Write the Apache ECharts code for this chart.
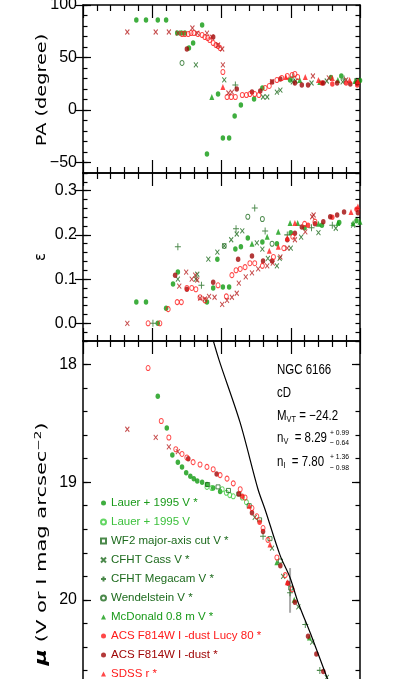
<!DOCTYPE html>
<html><head><meta charset="utf-8">
<script src="https://cdn.jsdelivr.net/npm/echarts@6/dist/echarts.min.js"></script>
<style>html,body{margin:0;padding:0;background:#fff}#c{width:398px;height:679px}</style>
</head><body><div id="c"></div>
<script>
// ---------- tick labels ----------
const paTicks = [-50, 0, 50, 100];
const epsTicks = [0, 0.1, 0.2, 0.3];
const muTicks = [18, 19, 20, 21];

// ---------- PA panel (x = r^(1/4), PA in degrees) ----------
const lauerStarPA = [[0.77,85.7],[0.91,85.7],[1.08,85.7],[1.20,85.7],[1.36,73.3],[1.42,73.3],[1.47,73.3],[1.53,59],[1.59,63.8],[1.72,81],[1.79,-41.9],[1.95,15.2],[2.02,-26.7],[2.11,-26.7],[2.19,-5.7],[2.28,4.8],[2.47,10.5],[2.59,21],[2.99,28.6],[3.58,31],[3.73,32.4],[4.00,28]];
const cassPA = [[1.63,42.9],[2.04,28.6],[2.60,12.4],[2.66,12.4],[2.80,17.1],[2.85,19],[3.03,26.7],[3.07,27.6],[3.30,25.7],[3.52,27.6],[3.75,26.7],[3.95,27.6]];
const megacamPA = [[2.20,23.8],[3.03,31.4],[3.77,29.5],[3.95,26.7]];
const wendelPA = [[1.43,44.8]];
const mcdonaldPA = [[1.86,12.4],[3.13,28.6],[3.42,26.7],[3.68,28.6],[3.93,27.6]];
const sdssPA = [[2.02,21.9],[2.93,31.4],[3.21,31.4],[3.40,28.6],[3.60,30.5],[3.85,28.6],[3.97,27.6]];
const acsDustPA = [[1.50,58],[1.88,69.5],[2.22,20],[2.44,17.1],[2.56,18.1],[2.73,26.7],[2.85,29.5],[3.06,25.7],[3.16,23.8],[3.25,23.8],[3.47,25.7],[3.67,25.7],[3.86,24.8],[3.96,25.7]];
const acsLucyPA = [[3.45,25.7],[3.60,24.8],[3.80,25.7],[3.96,23.8]];
const redOpenPA = [[1.43,72.4],[1.47,72.4],[1.52,72.4],[1.56,73.3],[1.60,73.3],[1.66,72.4],[1.72,71.4],[1.76,69.5],[1.80,68.6],[1.83,66.7],[1.88,63.8],[1.92,61.9],[1.95,60.9],[1.98,59],[2.02,36.2],[2.08,12.4],[2.14,12.4],[2.20,12.4],[2.30,14.3],[2.36,14.3],[2.41,15.2],[2.48,15.2],[2.54,14.3],[2.63,21],[2.69,22.9],[2.80,28.6],[2.87,30.5],[2.95,32.4],[3.02,33.3],[3.06,34.3],[3.10,31.4]];
const redCrossPA = [[0.64,74.3],[1.05,74.3],[1.24,74.3],[1.37,73.3],[1.58,78.1],[1.65,73.3],[1.79,73.3],[1.86,69.5],[1.95,61.9],[2.01,58.1],[2.02,42.9],[2.10,16.2],[2.15,17.1],[2.73,27],[3.32,32.4],[3.55,30.5],[3.80,28.6]];

// ---------- ellipticity panel ----------
const lauerStarEps = [[0.77,0.048],[0.91,0.048],[1.08,0],[1.20,0.034],[1.30,0.089],[1.37,0.116],[1.79,0.048],[1.88,0.080],[1.94,0.145],[2.02,0.082],[2.11,0.082],[2.20,0.168],[2.28,0.173],[2.38,0.193],[2.59,0.184],[2.80,0.180],[3.00,0.205],[3.20,0.216],[3.45,0.222],[3.70,0.228],[3.95,0.232]];
const megacamEps = [[1.01,0],[1.37,0.173],[1.71,0.086],[2.21,0.214],[2.48,0.261],[2.63,0.209],[2.95,0.200],[3.30,0.216],[3.60,0.222]];
const cassEps = [[1.37,0.100],[1.63,0.100],[1.65,0.111],[1.81,0.145],[1.94,0.161],[2.04,0.175],[2.14,0.189],[2.22,0.202],[2.30,0.209],[2.51,0.182],[2.59,0.168],[2.67,0.147],[2.80,0.130],[2.84,0.147],[3.00,0.170],[3.15,0.195],[3.40,0.205],[3.65,0.215],[3.90,0.222]];
const wendelEps = [[2.04,0.175],[2.38,0.241],[2.59,0.236],[2.73,0.180]];
const mcdonaldEps = [[2.44,0.180],[2.66,0.196],[2.82,0.207],[2.99,0.227],[3.10,0.227],[3.40,0.225],[3.68,0.227],[3.90,0.227],[4.00,0.230]];
const sdssEps = [[2.69,0.164],[2.82,0.173],[2.95,0.193],[3.06,0.227],[3.87,0.252],[3.97,0.264]];
const acsDustEps = [[1.33,0.109],[1.50,0.077],[1.88,0.093],[2.24,0.145],[2.44,0.152],[2.60,0.141],[2.73,0.141],[2.95,0.189],[3.06,0.204],[3.16,0.218],[3.35,0.225],[3.47,0.230],[3.57,0.241],[3.67,0.245],[3.77,0.252],[3.97,0.250]];
const acsLucyEps = [[3.25,0.222],[3.60,0.240],[3.95,0.258]];
const redOpenEps = [[0.94,0],[1.11,0],[1.23,0.032],[1.36,0.048],[1.42,0.048],[1.50,0.080],[1.57,0.080],[1.63,0.077],[1.69,0.059],[1.76,0.052],[1.95,0.086],[2.07,0.061],[2.15,0.109],[2.21,0.120],[2.27,0.123],[2.34,0.127],[2.41,0.136],[2.48,0.136],[2.59,0.130],[2.75,0.150],[2.90,0.170],[3.03,0.196],[3.20,0.225],[3.35,0.230]];
const redCrossEps = [[0.64,0],[1.39,0.084],[1.49,0.116],[1.57,0.100],[1.62,0.109],[1.65,0.098],[1.69,0.057],[1.76,0.055],[1.82,0.061],[1.90,0.059],[2.01,0.043],[2.08,0.052],[2.15,0.059],[2.22,0.068],[2.25,0.091],[2.35,0.105],[2.44,0.114],[2.53,0.123],[2.66,0.130],[2.74,0.136],[2.85,0.150],[2.95,0.170],[3.06,0.189],[3.21,0.207],[3.31,0.241],[3.33,0.245]];

// ---------- surface brightness panel ----------
const lauerStarMu = [[1.08,18.27],[1.21,18.54],[1.29,18.77],[1.37,18.83],[1.43,18.87],[1.49,18.92],[1.55,18.95],[1.60,18.97],[1.65,18.99],[1.72,19.00],[1.79,19.02],[1.88,19.05],[1.98,19.08]];
const lauerMu = [[1.79,19.04],[1.86,19.05],[2.01,19.06],[2.07,19.09],[2.12,19.11],[2.17,19.12],[2.30,19.13],[2.36,19.17]];
const wf2Mu = [[1.80,19.02],[1.95,19.04],[2.10,19.07],[2.25,19.10],[2.40,19.20],[2.55,19.32],[2.70,19.48],[2.85,19.67],[3.00,19.90]];
const cassMu = [[2.48,19.30],[2.73,19.56],[2.89,19.80],[3.11,20.06],[3.31,20.36],[3.52,20.66]];
const megacamMu = [[2.60,19.46],[2.99,19.94],[3.21,20.21],[3.42,20.60]];
const mcdonaldMu = [[2.80,19.68],[3.05,20.00],[3.27,20.32]];
const sdssMu = [[2.40,19.20],[2.70,19.53],[2.95,19.85]];
const acsDustMu = [[1.52,18.80],[1.93,18.93],[2.25,19.10],[2.44,19.26],[2.60,19.42],[2.85,19.71],[2.96,19.86],[3.06,20.02],[3.25,20.31],[3.37,20.46],[3.47,20.61]];
const acsLucyMu = [[2.30,19.12],[2.55,19.34]];
const redOpenMu = [[0.94,18.03],[1.13,18.48],[1.24,18.62],[1.34,18.72],[1.43,18.76],[1.50,18.79],[1.59,18.83],[1.69,18.85],[1.79,18.87],[1.88,18.89],[1.98,18.94],[2.08,18.97],[2.17,19.01],[2.27,19.06],[2.34,19.13],[2.44,19.22],[2.51,19.29],[2.60,19.39],[2.67,19.49],[2.80,19.64],[2.92,19.79],[3.02,19.91]];
const redCrossMu = [[0.64,18.55],[1.05,18.62],[1.24,18.70],[1.37,18.74]];
// Sersic fit curve and marker bar
const sersicX = [1.834, 1.964, 2.267, 2.527, 2.628, 2.845, 2.989, 3.105, 3.307, 3.523, 3.755];
const sersicMu = [17.70, 17.96, 18.49, 19.06, 19.23, 19.62, 19.81, 20.02, 20.32, 20.66, 21.02];
const barX = [2.99, 2.99];
const barMu = [19.73, 20.11];

// ---------- colours ----------
const C = {
  green: '#0f9a0f', lightGreen: '#3ccc3c', darkGreen: '#1e6b1e', mcd: '#139c13',
  red: '#ff1a1a', darkRed: '#a00808', redX: '#b82020'
};
const FONT = "'Liberation Sans',Arial,sans-serif";

const SYM_X = 'path://M0,0L10,10M10,0L0,10';
const SYM_P = 'path://M5,0L5,10M0,5L10,5';

function r1(v){ return Math.round(v*1000)/1000; }
function steps(min, max, st){ const a=[]; for(let v=min; v<=max+1e-9; v+=st) a.push(r1(v)); return a; }

// ---------- axes ----------
const xAxes = [];
function xa(grid, pos){
  return {type:'value', gridIndex:grid, position:pos, min:0, max:4, interval:1,
    axisLine:{show:true, onZero:false, lineStyle:{color:'#000', width:1.5}},
    axisTick:{show:true, inside:true, length:13, lineStyle:{color:'#000', width:1.2}},
    minorTick:{show:true, splitNumber:5, length:6, lineStyle:{color:'#000', width:1.2}},
    axisLabel:{show:false}, splitLine:{show:false}, minorSplitLine:{show:false}};
}
xAxes.push(xa(0,'bottom'), xa(0,'top'), xa(1,'bottom'), xa(1,'top'), xa(2,'top'));
const xIdx = [0, 2, 4];

const yAxes = [];
function yset(grid, min, max, minorStep, majors, fmt, inverse){
  const minor = steps(min, max, minorStep);
  const base = {type:'value', gridIndex:grid, min, max, inverse:!!inverse, splitLine:{show:false}};
  yAxes.push(Object.assign({}, base, {position:'left',
    axisLine:{show:true, onZero:false, lineStyle:{color:'#000', width:1.5}},
    axisTick:{show:true, inside:true, length:4.5, customValues:minor, lineStyle:{color:'#000', width:1.2}},
    axisLabel:{show:true, customValues:majors, formatter:fmt, color:'#000', fontFamily:FONT, fontSize:16, margin:6}}));
  yAxes.push(Object.assign({}, base, {position:'left',
    axisLine:{show:false},
    axisTick:{show:true, inside:true, length:8, customValues:majors, lineStyle:{color:'#000', width:1.2}},
    axisLabel:{show:false}}));
  yAxes.push(Object.assign({}, base, {position:'right',
    axisLine:{show:true, onZero:false, lineStyle:{color:'#000', width:1.5}},
    axisTick:{show:true, inside:true, length:4.5, customValues:minor, lineStyle:{color:'#000', width:1.2}},
    axisLabel:{show:false}}));
  yAxes.push(Object.assign({}, base, {position:'right',
    axisLine:{show:false},
    axisTick:{show:true, inside:true, length:8, customValues:majors, lineStyle:{color:'#000', width:1.2}},
    axisLabel:{show:false}}));
}
const neg = v => (v < 0 ? '\u2212' + Math.abs(v) : String(v));
yset(0, -60, 100, 10, paTicks, neg);
yset(1, -0.04, 0.34, 0.02, epsTicks, v => v.toFixed(1));
yset(2, 17.8, 21.2, 0.2, muTicks, v => String(v), true);
const yIdx = [0, 4, 8];

// ---------- series ----------
const series = [];
function sc(name, data, panel, sym, size, color, filled, z){
  series.push({type:'scatter', name, data, xAxisIndex:xIdx[panel], yAxisIndex:yIdx[panel],
    symbol:sym, symbolSize:size, z:z||2,
    itemStyle: filled ? {color} : {color:'rgba(0,0,0,0)', borderColor:color, borderWidth:1},
    emphasis:{disabled:true}, silent:true, clip:true});
}
const defs = [
  ['Lauer + 1995 V *', [lauerStarPA, lauerStarEps, lauerStarMu], 'circle', [4.5,5.5], C.green, true],
  ['Lauer + 1995 V', [null, null, lauerMu], 'circle', [4,5], C.lightGreen, false],
  ['WF2 major-axis cut V *', [null, null, wf2Mu], 'rect', [4,4], C.darkGreen, false],
  ['CFHT Cass V *', [cassPA, cassEps, cassMu], SYM_X, [4,5], C.darkGreen, false],
  ['CFHT Megacam V *', [megacamPA, megacamEps, megacamMu], SYM_P, [6,7], C.darkGreen, false],
  ['Wendelstein V *', [wendelPA, wendelEps, null], 'circle', [4,5], C.darkGreen, false],
  ['McDonald 0.8 m V *', [mcdonaldPA, mcdonaldEps, mcdonaldMu], 'triangle', [5,6], C.mcd, true],
  ['ACS F814W I -dust Lucy 80 *', [acsLucyPA, acsLucyEps, acsLucyMu], 'circle', [4.5,5.5], C.red, true],
  ['ACS F814W I -dust *', [acsDustPA, acsDustEps, acsDustMu], 'circle', [4.5,5.5], C.darkRed, true],
  ['SDSS r *', [sdssPA, sdssEps, sdssMu], 'triangle', [5,6], C.red, true],
  ['ACS open', [redOpenPA, redOpenEps, redOpenMu], 'circle', [4,5], C.red, false],
  ['ACS cross', [redCrossPA, redCrossEps, redCrossMu], SYM_X, [4,5], C.redX, false]
];
defs.forEach(d => d[1].forEach((arr, p) => { if (arr) sc(d[0], arr, p, d[2], d[3], d[4], d[5]); }));

series.push({type:'line', name:'Sersic', data: sersicX.map((x,i)=>[x, sersicMu[i]]), xAxisIndex:4, yAxisIndex:8,
  symbol:'none', smooth:0.3, lineStyle:{color:'#000', width:1.2}, clip:true, silent:true, z:3});
series.push({type:'line', name:'bar', data: barX.map((x,i)=>[x, barMu[i]]), xAxisIndex:4, yAxisIndex:8,
  symbol:'none', lineStyle:{color:'#aaaaaa', width:2}, clip:true, silent:true, z:1});

const legendCols = ['#1a9a1a', '#3cc03c', '#1e6b1e', '#1e6b1e', '#1e6b1e', '#1e6b1e', '#1a9a1a', '#ff1a1a', '#a00808', '#ff1a1a'];
const legendData = defs.slice(0, 10).map((d, i) => ({name: d[0], textStyle:{color: legendCols[i]}}));

const sub = {fontFamily:'Liberation Sans', fontSize:9, padding:[8,0,0,0]};
const option = {
  animation:false,
  backgroundColor:'#fff',
  grid:[
    {left:83, top:5, width:277, height:168, outerBoundsMode:'none', containLabel:false},
    {left:83, top:173, width:277, height:168, outerBoundsMode:'none', containLabel:false},
    {left:83, top:341, width:277, height:400, outerBoundsMode:'none', containLabel:false}
  ],
  xAxis:xAxes, yAxis:yAxes, series,
  legend:{show:true, type:'plain', orient:'vertical', left:100, top:496, height:260, itemWidth:5, itemHeight:5, itemGap:5, padding:0,
    selectedMode:false, data:legendData,
    textStyle:{fontFamily:FONT, fontSize:11.5, lineHeight:14, padding:[0,0,0,0]}},
  graphic:[
    {type:'text', x:42, y:90, rotation:Math.PI/2, scaleX:1.38, style:{text:'PA (degree)', font:"14px 'DejaVu Sans'", fill:'#000', align:'center', verticalAlign:'middle'}},
    {type:'text', x:41, y:257, rotation:Math.PI/2, style:{text:'\u03b5', font:"15px 'DejaVu Sans'", fill:'#000', align:'center', verticalAlign:'middle'}},
    {type:'text', x:42, y:544, rotation:Math.PI/2, scaleX:1.5, style:{text:'{m|\u03bc} (V or I mag arcsec{s|\u22122})', fill:'#000', align:'center', verticalAlign:'middle',
      fontFamily:'DejaVu Sans', fontSize:14, rich:{m:{fontFamily:'DejaVu Sans', fontSize:15, fontStyle:'italic', fontWeight:'bold'}, s:{fontFamily:'DejaVu Sans', fontSize:9, padding:[0,0,7,0]}}}},
    {type:'text', x:277, y:370, scaleX:0.82, style:{text:'NGC 6166', fontFamily:'Liberation Sans', fontSize:14, fill:'#000', verticalAlign:'middle'}},
    {type:'text', x:277, y:393, scaleX:0.82, style:{text:'cD', fontFamily:'Liberation Sans', fontSize:14, fill:'#000', verticalAlign:'middle'}},
    {type:'text', x:277, y:416, scaleX:0.82, style:{text:'M{s|VT} = \u221224.2', fontFamily:'Liberation Sans', fontSize:14, fill:'#000', verticalAlign:'middle', rich:{s:sub}}},
    {type:'text', x:277, y:438, scaleX:0.82, style:{text:'n{s|V}  = 8.29', fontFamily:'Liberation Sans', fontSize:14, fill:'#000', verticalAlign:'middle', rich:{s:sub}}},
    {type:'text', x:330, y:433, scaleX:0.85, style:{text:'+ 0.99', fontFamily:'Liberation Sans', fontSize:8, fill:'#000', verticalAlign:'middle'}},
    {type:'text', x:330, y:443, scaleX:0.85, style:{text:'\u2212 0.64', fontFamily:'Liberation Sans', fontSize:8, fill:'#000', verticalAlign:'middle'}},
    {type:'text', x:277, y:462, scaleX:0.82, style:{text:'n{s|I}  = 7.80', fontFamily:'Liberation Sans', fontSize:14, fill:'#000', verticalAlign:'middle', rich:{s:sub}}},
    {type:'text', x:330, y:457, scaleX:0.85, style:{text:'+ 1.36', fontFamily:'Liberation Sans', fontSize:8, fill:'#000', verticalAlign:'middle'}},
    {type:'text', x:330, y:468, scaleX:0.85, style:{text:'\u2212 0.98', fontFamily:'Liberation Sans', fontSize:8, fill:'#000', verticalAlign:'middle'}}
  ]
};
const chart = echarts.init(document.getElementById('c'), null, {renderer:'canvas'});
chart.setOption(option);
</script></body></html>
